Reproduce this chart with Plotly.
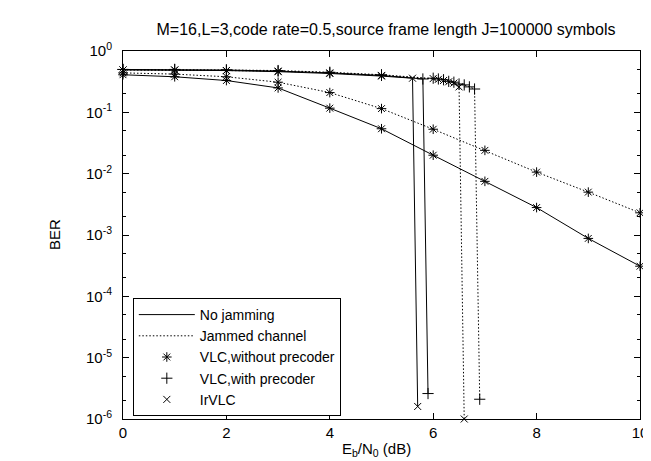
import plotly.graph_objects as go

# ---- data ----
x_vlc = [0, 1, 2, 3, 4, 5, 6, 7, 8, 9, 10]
ber_vlc_nojam = [0.41, 0.38, 0.33, 0.25, 0.117, 0.054, 0.020, 0.0075, 0.0028, 0.00088, 0.00031]
ber_vlc_jam = [0.44, 0.42, 0.38, 0.31, 0.21, 0.115, 0.053, 0.024, 0.0106, 0.005, 0.0023]

x_pre_nojam = [0, 1, 2, 3, 4, 5, 5.8, 5.9]
ber_pre_nojam = [0.50, 0.50, 0.49, 0.47, 0.44, 0.40, 0.35, 2.6e-6]

x_ir_nojam = [0, 1, 2, 3, 4, 5, 5.6, 5.7]
ber_ir_nojam = [0.49, 0.49, 0.48, 0.46, 0.43, 0.39, 0.36, 1.6e-6]

x_pre_jam = [0, 1, 2, 3, 4, 5, 6.0, 6.1, 6.2, 6.3, 6.4, 6.5, 6.6, 6.7, 6.8, 6.9]
ber_pre_jam = [0.50, 0.50, 0.49, 0.48, 0.45, 0.41, 0.36, 0.35, 0.34, 0.32, 0.31, 0.29, 0.28, 0.26, 0.24, 2.1e-6]

x_ir_jam = [0, 1, 2, 3, 4, 5, 6.0, 6.1, 6.2, 6.3, 6.4, 6.5, 6.6]
ber_ir_jam = [0.49, 0.49, 0.48, 0.47, 0.44, 0.40, 0.355, 0.345, 0.33, 0.315, 0.30, 0.26, 1.0e-6]

y_major = [1, 1e-1, 1e-2, 1e-3, 1e-4, 1e-5, 1e-6]
y_major_text = ["10<sup>0</sup>", "10<sup>-1</sup>", "10<sup>-2</sup>", "10<sup>-3</sup>",
                "10<sup>-4</sup>", "10<sup>-5</sup>", "10<sup>-6</sup>"]
y_minor = [m * 10.0 ** e for e in range(-6, 0) for m in (2, 5)]
x_ticks = [0, 2, 4, 6, 8, 10]

FONT = "Liberation Sans, Arial, Helvetica, sans-serif"
BLACK = "black"

SOLID = dict(color=BLACK, width=1, dash="solid")
DOTTED = dict(color=BLACK, width=1, dash="1.5px,2px")
M_AST = dict(symbol="asterisk-open", size=8, color=BLACK, line=dict(color=BLACK, width=1))
M_PLUS = dict(symbol="cross-thin-open", size=8, color=BLACK, line=dict(color=BLACK, width=1))
M_X = dict(symbol="x-thin-open", size=7, color=BLACK, line=dict(color=BLACK, width=1))

fig = go.Figure()

def add(x, y, line, marker):
    fig.add_trace(go.Scatter(x=x, y=y, mode="lines+markers", line=line, marker=marker,
                             showlegend=False, cliponaxis=False, hoverinfo="x+y"))

add(x_vlc, ber_vlc_nojam, SOLID, M_AST)
add(x_vlc, ber_vlc_jam, DOTTED, M_AST)
add(x_pre_nojam, ber_pre_nojam, SOLID, M_PLUS)
add(x_ir_nojam, ber_ir_nojam, SOLID, M_X)
add(x_pre_jam, ber_pre_jam, DOTTED, M_PLUS)
add(x_ir_jam, ber_ir_jam, DOTTED, M_X)

# legend-only entries
fig.add_trace(go.Scatter(x=[None], y=[None], mode="lines", line=SOLID, name="No jamming"))
fig.add_trace(go.Scatter(x=[None], y=[None], mode="lines", line=DOTTED, name="Jammed channel"))
fig.add_trace(go.Scatter(x=[None], y=[None], mode="markers", marker=M_AST, name="VLC,without precoder"))
fig.add_trace(go.Scatter(x=[None], y=[None], mode="markers", marker=M_PLUS, name="VLC,with precoder"))
fig.add_trace(go.Scatter(x=[None], y=[None], mode="markers", marker=M_X, name="IrVLC"))

fig.update_layout(
    width=651, height=461,
    margin=dict(l=115, r=11, t=43, b=50),
    paper_bgcolor="white", plot_bgcolor="white",
    font=dict(family=FONT, size=15, color=BLACK),
    title=dict(text="M=16,L=3,code rate=0.5,source frame length J=100000 symbols",
               font=dict(family=FONT, size=16, color=BLACK),
               x=378 / 651, xanchor="center", y=1 - 21 / 461, yanchor="middle"),
    showlegend=True,
    legend=dict(x=0.019, y=(411 - 290) / 368, xanchor="left", yanchor="top",
                bordercolor=BLACK, borderwidth=1, bgcolor="white",
                font=dict(family=FONT, size=14, color=BLACK),
                tracegroupgap=0, itemwidth=56),
    xaxis=dict(range=[0, 10], tickvals=x_ticks, ticks="inside", ticklen=6, tickwidth=1,
               tickcolor=BLACK, showline=True, linecolor=BLACK, linewidth=1, mirror="ticks",
               showgrid=False, zeroline=False, ticklabelstandoff=0,
               tickfont=dict(family=FONT, size=15, color=BLACK)),
    yaxis=dict(type="log", range=[-6, 0], tickvals=y_major, ticktext=y_major_text,
               ticks="inside", ticklen=6, tickwidth=1, tickcolor=BLACK,
               showline=True, linecolor=BLACK, linewidth=1, mirror="ticks",
               showgrid=False, zeroline=False, ticklabelstandoff=7,
               tickfont=dict(family=FONT, size=15, color=BLACK),
               minor=dict(tickvals=y_minor, ticks="inside", ticklen=3, tickwidth=1,
                          tickcolor=BLACK, showgrid=False)),
    annotations=[
        dict(text="BER", xref="paper", yref="paper", x=(45 - 115) / 525, y=0.5,
             xanchor="center", yanchor="middle", textangle=-90, showarrow=False,
             font=dict(family=FONT, size=15, color=BLACK)),
        dict(text="E<sub>b</sub>/N<sub>0</sub> (dB)", xref="paper", yref="paper",
             x=(372 - 115) / 525, y=(411 - 441) / 368, xanchor="center", yanchor="middle",
             showarrow=False, font=dict(family=FONT, size=15, color=BLACK)),
    ],
)

fig.write_html("out.html")
